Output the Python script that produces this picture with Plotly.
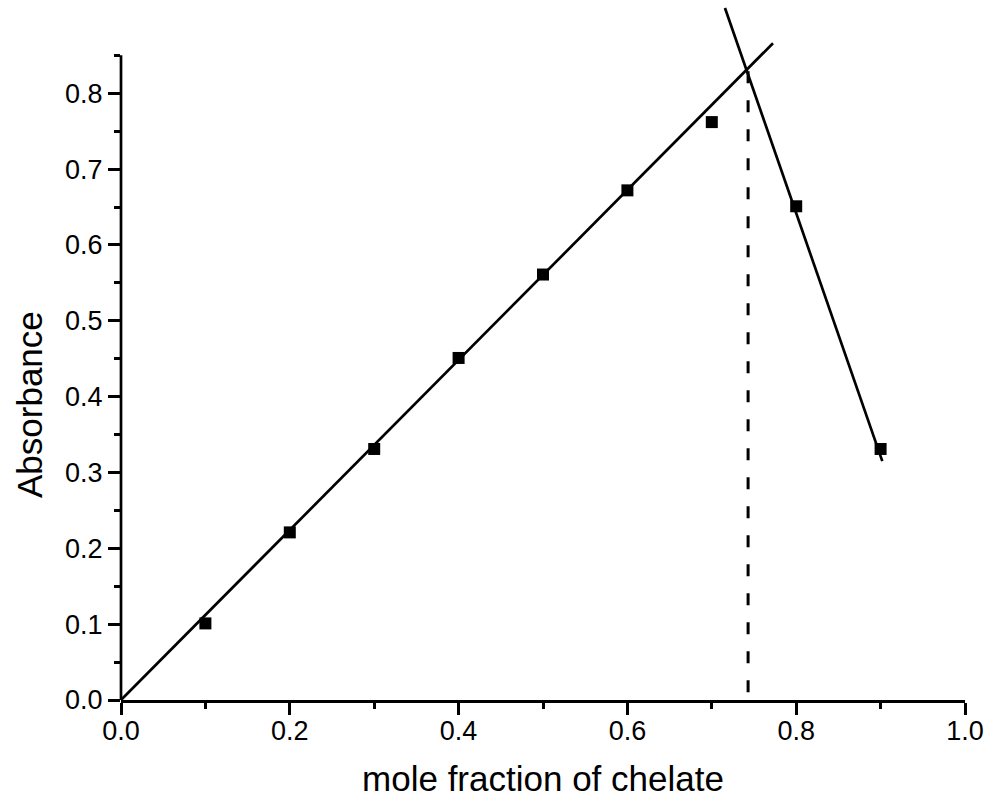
import plotly.graph_objects as go

# Data
mole_fraction = [0.1, 0.2, 0.3, 0.4, 0.5, 0.6, 0.7, 0.8, 0.9]
absorbance = [0.101, 0.221, 0.331, 0.451, 0.561, 0.672, 0.762, 0.651, 0.331]

# Fitted line segments (endpoints)
fit_rise_x = [0.0, 0.7725]
fit_rise_y = [0.0, 0.866]
fit_fall_x = [0.7156, 0.902]
fit_fall_y = [0.9125, 0.315]

# Intersection marker (dashed drop line)
drop_x = [0.743, 0.743]
drop_y = [0.829, 0.0]

x_tickvals = [0.0, 0.2, 0.4, 0.6, 0.8, 1.0]
x_ticktext = ["0.0", "0.2", "0.4", "0.6", "0.8", "1.0"]
x_minor = [0.1, 0.3, 0.5, 0.7, 0.9]
y_tickvals = [0.0, 0.1, 0.2, 0.3, 0.4, 0.5, 0.6, 0.7, 0.8]
y_ticktext = ["0.0", "0.1", "0.2", "0.3", "0.4", "0.5", "0.6", "0.7", "0.8"]
y_minor = [0.05, 0.15, 0.25, 0.35, 0.45, 0.55, 0.65, 0.75, 0.85]
y_axis_top = 0.85

FONT = "Arial, 'Liberation Sans', sans-serif"
LW = 2.7
TICKSIZE = 27

fig = go.Figure()
fig.add_trace(go.Scatter(x=fit_rise_x, y=fit_rise_y, mode="lines",
                         line=dict(color="black", width=LW), showlegend=False, hoverinfo="skip"))
fig.add_trace(go.Scatter(x=fit_fall_x, y=fit_fall_y, mode="lines",
                         line=dict(color="black", width=LW), showlegend=False, hoverinfo="skip"))
fig.add_trace(go.Scatter(x=drop_x, y=drop_y, mode="lines",
                         line=dict(color="black", width=3, dash="12px,17px"),
                         showlegend=False, hoverinfo="skip"))
fig.add_trace(go.Scatter(x=mole_fraction, y=absorbance, mode="markers",
                         marker=dict(symbol="square", size=12, color="black", line=dict(width=0)),
                         showlegend=False, cliponaxis=False))

# Left axis line only up to the last minor tick
fig.add_shape(type="line", xref="paper", yref="y", x0=0, x1=0, y0=0, y1=y_axis_top,
              line=dict(color="black", width=LW), layer="above")

fig.update_layout(
    width=988, height=798,
    margin=dict(l=121, r=23, t=0, b=98),
    paper_bgcolor="white", plot_bgcolor="white",
    font=dict(family=FONT, color="black", size=TICKSIZE),
    xaxis=dict(
        range=[0, 1], showgrid=False, zeroline=False,
        showline=True, linecolor="black", linewidth=LW,
        ticks="outside", ticklen=12, tickwidth=LW, tickcolor="black",
        tickmode="array", tickvals=x_tickvals, ticktext=x_ticktext,
        tickfont=dict(size=TICKSIZE, family=FONT),
        ticklabelstandoff=-7,
        minor=dict(tickmode="array", tickvals=x_minor, ticks="outside",
                   ticklen=6, tickwidth=LW, tickcolor="black", showgrid=False),
        title=dict(text="mole fraction of chelate", font=dict(size=35, family=FONT), standoff=22),
    ),
    yaxis=dict(
        range=[0, 700 / 758.4], showgrid=False, zeroline=False,
        showline=False,
        ticks="outside", ticklen=12, tickwidth=LW, tickcolor="black",
        tickmode="array", tickvals=y_tickvals, ticktext=y_ticktext,
        tickfont=dict(size=TICKSIZE, family=FONT),
        minor=dict(tickmode="array", tickvals=y_minor, ticks="outside",
                   ticklen=6, tickwidth=LW, tickcolor="black", showgrid=False),
    ),
    annotations=[dict(text="Absorbance", xref="paper", yref="paper",
                      x=(30 - 121) / 844, y=(700 - 405) / 700,
                      xanchor="center", yanchor="middle", textangle=-90,
                      showarrow=False, font=dict(size=35, family=FONT))],
)

fig.write_html("out.html", config={"displayModeBar": False},
               post_script="document.body.style.margin='0';document.body.style.padding='0';")
